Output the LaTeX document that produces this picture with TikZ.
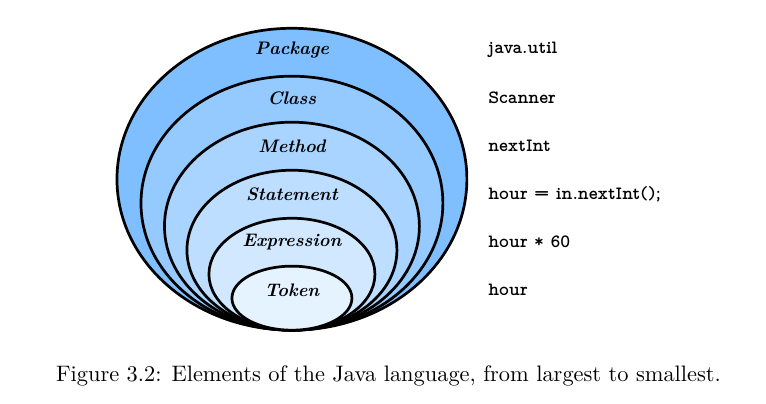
\documentclass[tikz,border=0pt]{standalone}
\usepackage{tikz}
\usetikzlibrary{positioning}
\definecolor{layerbase}{RGB}{0,128,255}
\tikzset{every layer/.style={draw=black,line width=1.3pt},
         layertitle/.style={font=\fontsize{8.7}{10}\selectfont\bfseries\itshape},
         codetext/.style={anchor=west,inner xsep=0pt,font=\fontsize{9}{10}\fontfamily{lmvtt}\selectfont\bfseries},
        }

\begin{document}
\begin{tikzpicture}
        \useasboundingbox (0,0) rectangle (12.92,6.80);
        \coordinate (tip) at (4.924,1.231);

        \draw[every layer, fill=layerbase!50](tip)++(0,2.546)ellipse(2.951 and 2.546);
        \draw[every layer, fill=layerbase!42](tip)++(0,2.142)ellipse(2.546 and 2.142);
        \draw[every layer, fill=layerbase!34](tip)++(0,1.754)ellipse(2.150 and 1.754);
        \draw[every layer, fill=layerbase!26](tip)++(0,1.349)ellipse(1.771 and 1.349);
        \draw[every layer, fill=layerbase!18](tip)++(0,0.944)ellipse(1.400 and 0.944);
        \draw[every layer, fill=layerbase!10](tip)++(0,0.540)ellipse(1.012 and 0.540);

        \node[layertitle](package)at(4.924,5.953){Package};
        \node[layertitle](class)at(4.924,5.143){Class};
        \node[layertitle](method)at(4.924,4.334){Method};
        \node[layertitle](statement)at(4.924,3.524){Statement};
        \node[layertitle](expression)at(4.924,2.715){Expression};
        \node[layertitle](token)at(4.924,1.906){Token};

        \node[codetext](javautil)at(8.229,5.953){java.util};
        \node[codetext](scanner)at(8.229,5.143){Scanner};
        \node[codetext](nextint)at(8.229,4.334){nextInt};
        \node[codetext](assign)at(8.229,3.524){hour = in.nextInt();};
        \node[codetext](times)at(8.229,2.715){hour * 60};
        \node[codetext](hour)at(8.229,1.906){hour};

        \node[font=\fontsize{10.75}{12}\selectfont](caption)at(6.552,0.455){Figure 3.2: Elements of the Java language, from largest to smallest.};
    \end{tikzpicture}
\end{document}
